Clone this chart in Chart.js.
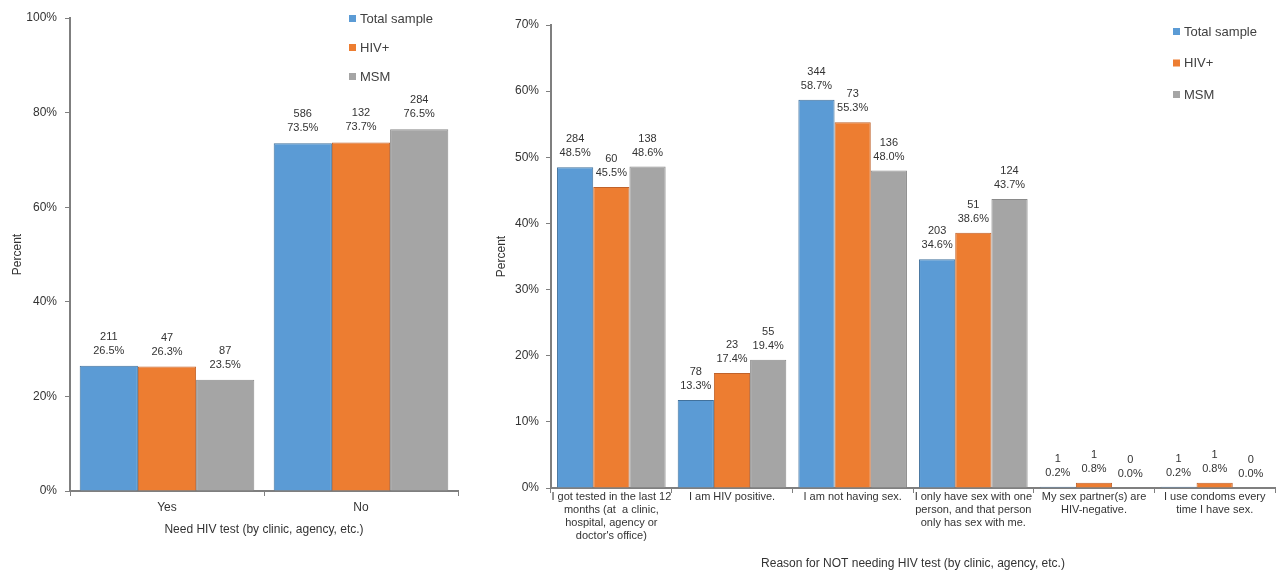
<!DOCTYPE html>
<html>
<head>
<meta charset="utf-8">
<script src="https://cdn.jsdelivr.net/npm/chart.js@4.4.0/dist/chart.umd.min.js"></script>
<style>
    body { margin: 0; background: #fff; width: 1278px; height: 576px; overflow: hidden; position: relative; }
    #needChart { position: absolute; left: 0; top: 0; }
    #reasonChart { position: absolute; left: 480px; top: 0; }
</style>
</head>
<body>
<canvas id="needChart" width="475" height="576"></canvas>
<canvas id="reasonChart" width="798" height="576"></canvas>
<script>
// Series
const seriesNames = ['Total sample', 'HIV+', 'MSM'];
const seriesColors = ['#5b9bd5', '#ed7d31', '#a5a5a5'];
const seriesBorders = ['#41719c', '#c0622a', '#8a8a8a'];

// Left chart: need HIV test
const needCategories = ['Yes', 'No'];
const needPct = [
    [26.5, 73.5],   // Total sample
    [26.3, 73.7],   // HIV+
    [23.5, 76.5]    // MSM
];
const needCounts = [
    [211, 586],
    [47, 132],
    [87, 284]
];
const needTicks = [0, 20, 40, 60, 80, 100];

// Right chart: reason for not needing HIV test
const reasonCategories = [
    ['I got tested in the last 12', 'months (at  a clinic,', 'hospital, agency or', "doctor's office)"],
    'I am HIV positive.',
    'I am not having sex.',
    ['I only have sex with one', 'person, and that person', 'only has sex with me.'],
    ['My sex partner(s) are', 'HIV-negative.'],
    ['I use condoms every', 'time I have sex.']
];
const reasonPct = [
    [48.5, 13.3, 58.7, 34.6, 0.2, 0.2],
    [45.5, 17.4, 55.3, 38.6, 0.8, 0.8],
    [48.6, 19.4, 48.0, 43.7, 0.0, 0.0]
];
const reasonCounts = [
    [284, 78, 344, 203, 1, 1],
    [60, 23, 73, 51, 1, 1],
    [138, 55, 136, 124, 0, 0]
];
const reasonTicks = [0, 10, 20, 30, 40, 50, 60, 70];

const FONT = '"Liberation Sans", Arial, sans-serif';
Chart.defaults.font.family = FONT;
Chart.defaults.color = '#333';

// count + percent above each bar
const barLabels = {
    id: 'barLabels',
    afterDatasetsDraw(chart, args, opts) {
        const ctx = chart.ctx;
        ctx.save();
        ctx.font = '11px ' + FONT;
        ctx.fillStyle = '#333';
        ctx.textAlign = 'center';
        ctx.textBaseline = 'middle';
        chart.data.datasets.forEach((ds, i) => {
            chart.getDatasetMeta(i).data.forEach((bar, j) => {
                const y = bar.y - opts.gap;
                ctx.fillText(String(ds.counts[j]), bar.x, y - 14);
                ctx.fillText(ds.data[j].toFixed(1) + '%', bar.x, y);
            });
        });
        ctx.restore();
    }
};

// legend sitting inside the plot, top right
const cornerLegend = {
    id: 'cornerLegend',
    afterDraw(chart, args, opts) {
        const ctx = chart.ctx;
        ctx.save();
        ctx.font = '13px ' + FONT;
        ctx.textBaseline = 'middle';
        ctx.textAlign = 'left';
        chart.data.datasets.forEach((ds, i) => {
            const y = opts.y + i * opts.step;
            ctx.fillStyle = ds.backgroundColor;
            ctx.fillRect(opts.x, y - 4, 7, 7);
            ctx.fillStyle = '#404040';
            ctx.fillText(ds.label, opts.x + 11, y);
        });
        ctx.restore();
    }
};

function makeDatasets(pct, counts) {
    return seriesNames.map((name, i) => ({
        label: name,
        data: pct[i],
        counts: counts[i],
        backgroundColor: seriesColors[i],
        borderColor: seriesBorders[i],
        borderWidth: 1,
        barPercentage: 1.0,
        categoryPercentage: 0.9
    }));
}

function buildOptions(cfg) {
    return {
        responsive: false,
        animation: false,
        layout: { padding: { top: cfg.top, right: cfg.right, left: 0, bottom: 0 } },
        plugins: {
            legend: { display: false },
            tooltip: { enabled: false },
            barLabels: { gap: cfg.gap },
            cornerLegend: cfg.legend
        },
        scales: {
            x: {
                grid: { drawOnChartArea: false, tickLength: 5, color: '#7f7f7f', offset: true },
                border: { color: '#7f7f7f', width: 2 },
                ticks: { padding: cfg.xPad, maxRotation: 0, autoSkip: false, color: '#333', font: { size: cfg.xFont } },
                title: { display: true, text: cfg.xTitle, color: '#333', font: { size: 12 }, padding: { top: 0, bottom: cfg.xTitlePad } },
                afterFit: s => { s.height = cfg.xHeight; }
            },
            y: {
                min: 0,
                max: cfg.ticks[cfg.ticks.length - 1],
                afterBuildTicks: s => { s.ticks = cfg.ticks.map(v => ({ value: v })); },
                ticks: { callback: v => v + '%', padding: cfg.yPad, color: '#333', font: { size: 12 } },
                grid: { drawOnChartArea: false, tickLength: 5, color: '#7f7f7f' },
                border: { color: '#7f7f7f', width: 2 },
                title: { display: true, text: 'Percent', color: '#333', font: { size: 12 }, padding: { top: cfg.yTitlePad, bottom: 0 } },
                afterFit: s => { s.width = cfg.yWidth; }
            }
        }
    };
}

new Chart(document.getElementById('needChart'), {
    type: 'bar',
    data: { labels: needCategories, datasets: makeDatasets(needPct, needCounts) },
    options: buildOptions({
        top: 18, right: 17, yWidth: 70, xHeight: 85,
        xPad: 4, yPad: 8, xFont: 12,
        xTitle: 'Need HIV test (by clinic, agency, etc.)', xTitlePad: 39, yTitlePad: 10,
        ticks: needTicks, gap: 15,
        legend: { x: 349, y: 19, step: 29 }
    }),
    plugins: [barLabels, cornerLegend]
});

new Chart(document.getElementById('reasonChart'), {
    type: 'bar',
    data: { labels: reasonCategories, datasets: makeDatasets(reasonPct, reasonCounts) },
    options: buildOptions({
        top: 25, right: 3, yWidth: 71, xHeight: 88,
        xPad: -3, yPad: 7, xFont: 11,
        xTitle: 'Reason for NOT needing HIV test (by clinic, agency, etc.)', xTitlePad: 5, yTitlePad: 14,
        ticks: reasonTicks, gap: 14,
        legend: { x: 693, y: 32, step: 31.5 }
    }),
    plugins: [barLabels, cornerLegend]
});
</script>
</body>
</html>
